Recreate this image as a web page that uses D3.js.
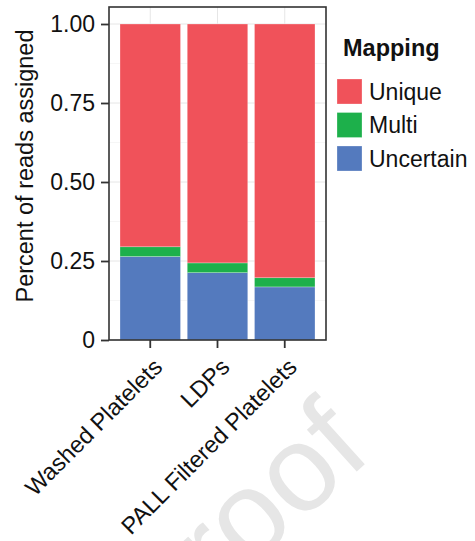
<!DOCTYPE html>
<html>
<head>
<meta charset="utf-8">
<script src="https://cdn.jsdelivr.net/npm/d3@7"></script>
<style>
  html, body { margin: 0; padding: 0; background: #fff; }
  svg { display: block; font-family: "Liberation Sans", Arial, sans-serif; }
</style>
</head>
<body>
<svg id="chart" width="475" height="541"></svg>
<script>
// Share of reads by mapping status for each platelet preparation
const categories = ["Washed Platelets", "LDPs", "PALL Filtered Platelets"];
const uncertain = [0.264, 0.213, 0.168];
const multi = [0.031, 0.031, 0.029];
const unique = [0.705, 0.756, 0.803];

const seriesNames = ["Uncertain", "Multi", "Unique"];   // stacking order, bottom first
const legendOrder = ["Unique", "Multi", "Uncertain"];
const seriesColors = { Unique: "#F0525A", Multi: "#1DB04B", Uncertain: "#547ABE" };

const yTicks = [0, 0.25, 0.5, 0.75, 1];
const yTickLabels = ["0", "0.25", "0.50", "0.75", "1.00"];
const yMinorTicks = [0.125, 0.375, 0.625, 0.875];

const rows = categories.map((c, i) => ({
  category: c, Uncertain: uncertain[i], Multi: multi[i], Unique: unique[i]
}));

const svg = d3.select("#chart");

// faint diagonal watermark behind the figure
svg.append("text")
  .attr("transform", "translate(374,456) rotate(-42)")
  .attr("text-anchor", "end")
  .attr("font-size", 122)
  .attr("fill", "#e6e6e6")
  .text("Journal Pre-proof");

const panel = { left: 109, right: 326, top: 7, bottom: 340 };

const x = d3.scaleBand()
  .domain(categories)
  .range([120, 315])
  .paddingInner(0.1)
  .paddingOuter(0);

const y = d3.scaleLinear()
  .domain([0, 1])
  .range([340, 24]);

const g = svg.append("g");

// panel grid
const grid = g.append("g");
grid.selectAll("line.minor").data(yMinorTicks).join("line")
  .attr("x1", panel.left).attr("x2", panel.right)
  .attr("y1", d => y(d)).attr("y2", d => y(d))
  .attr("stroke", "#f0f0f0").attr("stroke-width", 0.6);
grid.selectAll("line.major").data(yTicks).join("line")
  .attr("x1", panel.left).attr("x2", panel.right)
  .attr("y1", d => y(d)).attr("y2", d => y(d))
  .attr("stroke", "#e6e6e6").attr("stroke-width", 1);
grid.selectAll("line.vert").data(categories).join("line")
  .attr("x1", d => x(d) + x.bandwidth() / 2).attr("x2", d => x(d) + x.bandwidth() / 2)
  .attr("y1", panel.top).attr("y2", panel.bottom)
  .attr("stroke", "#e6e6e6").attr("stroke-width", 1);

// stacked bars
const stacked = d3.stack().keys(seriesNames)(rows);
g.append("g").selectAll("g").data(stacked).join("g")
  .attr("fill", d => seriesColors[d.key])
  .selectAll("rect").data(d => d).join("rect")
  .attr("x", d => x(d.data.category))
  .attr("width", x.bandwidth())
  .attr("y", d => y(d[1]))
  .attr("height", d => y(d[0]) - y(d[1]))
  .attr("stroke", "#ffffff").attr("stroke-opacity", 0.45).attr("stroke-width", 0.6);

// panel border
g.append("rect")
  .attr("x", panel.left).attr("y", panel.top)
  .attr("width", panel.right - panel.left).attr("height", panel.bottom - panel.top)
  .attr("fill", "none").attr("stroke", "#333").attr("stroke-width", 1.6);

// y axis
const yAxis = g.append("g")
  .attr("transform", `translate(${panel.left},0)`)
  .call(d3.axisLeft(y).tickValues(yTicks)
    .tickFormat((d, i) => yTickLabels[i]).tickSize(8).tickPadding(6));
yAxis.select(".domain").remove();
yAxis.selectAll(".tick line").attr("stroke", "#333").attr("stroke-width", 1.8);
yAxis.selectAll(".tick text")
  .attr("font-size", 23).attr("fill", "#111")
  .attr("font-family", "'Liberation Sans', Arial, sans-serif");

// x axis
const xAxis = g.append("g")
  .attr("transform", `translate(0,${panel.bottom})`)
  .call(d3.axisBottom(x).tickSize(8).tickPadding(0));
xAxis.select(".domain").remove();
xAxis.selectAll(".tick line").attr("stroke", "#333").attr("stroke-width", 1.8);
xAxis.selectAll(".tick text")
  .attr("font-size", 23.5).attr("fill", "#111")
  .attr("font-family", "'Liberation Sans', Arial, sans-serif")
  .attr("text-anchor", "end")
  .attr("transform", "translate(1,16) rotate(-45)")
  .attr("x", 0).attr("y", 0).attr("dy", "0.75em");

// y axis title
svg.append("text")
  .attr("transform", "translate(33,166) rotate(-90)")
  .attr("text-anchor", "middle")
  .attr("font-size", 23.5).attr("fill", "#111")
  .text("Percent of reads assigned");

// legend
const legend = svg.append("g");
legend.append("text")
  .attr("x", 343).attr("y", 56)
  .attr("font-size", 23.5).attr("font-weight", "bold").attr("fill", "#111")
  .text("Mapping");
const items = legend.selectAll("g.item").data(legendOrder).join("g")
  .attr("transform", (d, i) => `translate(337,${79 + i * 33.5})`);
items.append("rect")
  .attr("width", 25).attr("height", 25)
  .attr("fill", d => seriesColors[d])
  .attr("stroke", "#ffffff").attr("stroke-opacity", 0.45).attr("stroke-width", 0.6);
items.append("text")
  .attr("x", 32).attr("y", 12.5).attr("dy", "0.36em")
  .attr("font-size", 23).attr("fill", "#111")
  .text(d => d);
</script>
</body>
</html>
